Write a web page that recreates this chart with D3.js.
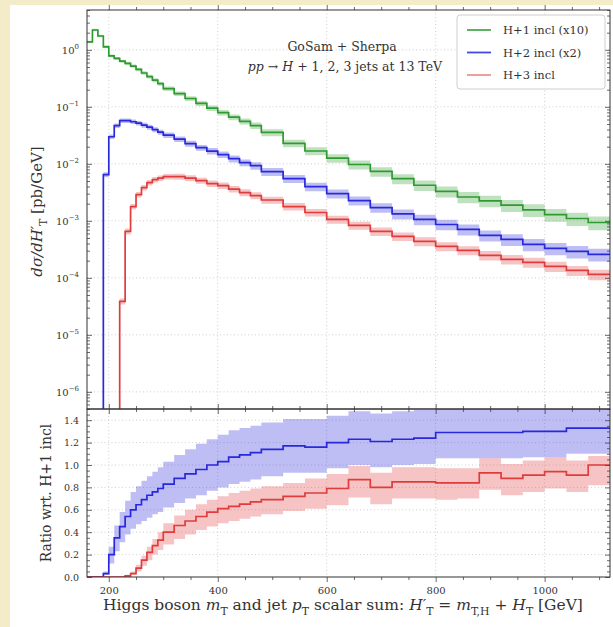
<!DOCTYPE html>
<html>
<head>
<meta charset="utf-8">
<script src="https://cdn.jsdelivr.net/npm/d3@7/dist/d3.min.js"></script>
<style>
  html, body { margin: 0; padding: 0; background: #f4ebc8; }
  svg { display: block; }
  text { font-family: "DejaVu Serif", "Liberation Serif", serif; fill: #333; }
</style>
</head>
<body>
<svg id="chart" width="613" height="627"></svg>
<script>
// Bin edges in H'_T [GeV]
const binEdges = [160,170,180,190,200,210,220,230,240,250,260,270,280,290,300,
  320,340,360,380,400,420,440,460,480,
  520,560,600,640,680,720,760,800,840,880,920,960,1000,1040,1080,1120];

// dσ/dH'_T [pb/GeV] per bin (H+1 scaled x10, H+2 scaled x2)
const h1Values = [1.38,2.23,1.75,1.13,0.783,0.708,0.632,0.579,0.519,0.453,0.392,0.340,0.294,0.255,
  0.208,0.171,0.140,0.1146,0.0953,0.0791,0.0658,0.0555,0.0470,
  0.0356,0.0229,0.0168,0.0126,0.00973,0.00735,0.00549,0.00421,0.00329,0.00262,0.00224,0.00188,0.00156,0.00129,0.0011,0.000935];
const h2Values = [0,0,0,0.00647,0.0299,0.0467,0.0571,0.0571,0.0548,0.0516,0.0476,0.0439,0.0397,0.0359,
  0.0318,0.0271,0.0226,0.0192,0.0167,0.0145,0.0123,0.0105,0.0093,
  0.00731,0.00551,0.00399,0.00301,0.00227,0.00171,0.00132,0.00106,0.000863,0.000706,0.000555,0.000472,0.000386,0.000328,0.000291,0.000258];
const h3Values = [0,0,0,0,0,0,3.88e-5,6.52e-4,1.78e-3,2.89e-3,3.84e-3,4.69e-3,5.29e-3,5.62e-3,
  5.97e-3,5.97e-3,5.62e-3,5.08e-3,4.51e-3,4.16e-3,3.61e-3,3.13e-3,2.78e-3,
  2.32e-3,1.78e-3,1.40e-3,1.06e-3,8.30e-4,6.52e-4,5.32e-4,4.35e-4,3.56e-4,3.03e-4,2.48e-4,2.11e-4,1.87e-4,1.59e-4,1.35e-4,1.15e-4];

// relative scale-uncertainty half-widths per bin
const h1Unc = [0.05,0.05,0.05,0.06,0.06,0.06,0.06,0.07,0.07,0.07,0.07,0.08,0.08,0.08,
  0.09,0.09,0.10,0.10,0.11,0.11,0.12,0.12,0.13,
  0.14,0.15,0.16,0.17,0.18,0.19,0.20,0.21,0.22,0.22,0.23,0.24,0.25,0.25,0.26,0.27];
const h2Unc = [0,0,0,0.10,0.09,0.09,0.09,0.09,0.09,0.09,0.10,0.10,0.10,0.10,
  0.11,0.11,0.12,0.12,0.13,0.13,0.14,0.14,0.15,
  0.16,0.16,0.17,0.18,0.18,0.19,0.20,0.21,0.21,0.22,0.22,0.23,0.24,0.24,0.25,0.25];
const h3Unc = [0,0,0,0,0,0,0.12,0.12,0.11,0.11,0.11,0.11,0.11,0.11,
  0.11,0.12,0.12,0.12,0.13,0.13,0.13,0.14,0.14,
  0.14,0.15,0.15,0.16,0.16,0.17,0.17,0.18,0.18,0.18,0.19,0.19,0.20,0.20,0.20,0.21];

// ratios with respect to H+1 incl, with their bands
const ratio2 = [0,0,0,0.03,0.20,0.35,0.45,0.54,0.60,0.645,0.69,0.73,0.76,0.79,
  0.83,0.88,0.92,0.96,1.00,1.03,1.07,1.09,1.11,
  1.14,1.17,1.16,1.20,1.23,1.21,1.23,1.24,1.29,1.29,1.29,1.29,1.30,1.30,1.33,1.33];
const ratio2Lo = [0,0,0,0.02,0.12,0.23,0.31,0.38,0.43,0.47,0.50,0.53,0.56,0.58,
  0.62,0.66,0.70,0.73,0.77,0.80,0.83,0.85,0.87,
  0.90,0.93,0.93,0.97,1.00,0.98,1.00,1.01,1.06,1.06,1.06,1.06,1.07,1.07,1.10,1.10];
const ratio2Hi = [0,0,0,0.05,0.27,0.46,0.58,0.68,0.76,0.81,0.86,0.90,0.94,0.98,
  1.03,1.09,1.14,1.19,1.23,1.27,1.31,1.33,1.35,
  1.38,1.41,1.41,1.44,1.48,1.46,1.48,1.49,1.55,1.55,1.55,1.55,1.56,1.56,1.58,1.58];
const ratio3 = [0,0,0,0,0,0,0.0,0.01,0.03,0.08,0.15,0.22,0.28,0.33,
  0.40,0.46,0.50,0.54,0.58,0.61,0.63,0.65,0.67,
  0.69,0.72,0.75,0.79,0.87,0.80,0.85,0.85,0.84,0.84,0.93,0.88,0.91,0.94,0.91,1.00];
const ratio3Lo = [0,0,0,0,0,0,0,0.0,0.02,0.05,0.10,0.15,0.20,0.24,
  0.29,0.34,0.38,0.42,0.45,0.48,0.50,0.52,0.54,
  0.56,0.59,0.61,0.64,0.71,0.65,0.70,0.70,0.69,0.70,0.78,0.73,0.76,0.79,0.76,0.82];
const ratio3Hi = [0,0,0,0,0,0,0,0.02,0.05,0.11,0.19,0.27,0.34,0.40,
  0.48,0.55,0.60,0.65,0.69,0.72,0.75,0.77,0.79,
  0.81,0.84,0.88,0.92,0.99,0.93,0.98,0.98,0.97,0.97,1.06,1.01,1.04,1.07,1.04,1.08];

const seriesNames = ["H+1 incl (x10)", "H+2 incl (x2)", "H+3 incl"];
const lineColors = ["#2f9a2f", "#2828dc", "#e03c3c"];
const xTickValues = [200, 400, 600, 800, 1000];
const ratioTickValues = [0, 0.2, 0.4, 0.6, 0.8, 1.0, 1.2, 1.4];
const logDecades = [0, -1, -2, -3, -4, -5, -6];

// ---- layout ----
const L = 87, R = 610, T = 10, MID = 409, B = 577;
const svg = d3.select("#chart");

// card
svg.append("rect").attr("x", 10).attr("y", 5).attr("width", 603).attr("height", 622).attr("fill", "#fff");

const x = d3.scaleLinear().domain([160, 1120]).range([L, R]);
const y = d3.scaleLog().domain([5e-7, 5]).range([MID, T]);
const yr = d3.scaleLinear().domain([0, 1.5]).range([B, MID]);

const defs = svg.append("defs");
defs.append("clipPath").attr("id", "clipMain").append("rect").attr("x", L).attr("y", T).attr("width", R - L).attr("height", MID - T);
defs.append("clipPath").attr("id", "clipRatio").append("rect").attr("x", L).attr("y", MID).attr("width", R - L).attr("height", B - MID);

// grids
const gridStyle = g => g.attr("stroke", "#c4c4c4").attr("stroke-width", 0.8).attr("stroke-dasharray", "1,2.5");
const grid = svg.append("g");
xTickValues.forEach(v => {
  gridStyle(grid.append("line").attr("x1", x(v)).attr("x2", x(v)).attr("y1", T).attr("y2", MID));
  gridStyle(grid.append("line").attr("x1", x(v)).attr("x2", x(v)).attr("y1", MID).attr("y2", B));
});
logDecades.forEach(e => gridStyle(grid.append("line").attr("x1", L).attr("x2", R).attr("y1", y(Math.pow(10, e))).attr("y2", y(Math.pow(10, e)))));
ratioTickValues.slice(1).forEach(v => gridStyle(grid.append("line").attr("x1", L).attr("x2", R).attr("y1", yr(v)).attr("y2", yr(v))));

// step-point helpers
function stepPoints(vals) {
  const pts = [];
  vals.forEach((v, i) => { pts.push({ e: binEdges[i], i }); pts.push({ e: binEdges[i + 1], i }); });
  return pts;
}
const mainY = v => v > 0 ? y(v) : MID + 30;

// ---- main panel ----
const mainG = svg.append("g").attr("clip-path", "url(#clipMain)");
const mainSeries = [[h1Values, h1Unc], [h2Values, h2Unc], [h3Values, h3Unc]];
mainSeries.forEach(([vals, unc], k) => {
  const pts = stepPoints(vals);
  const area = d3.area()
    .defined(p => vals[p.i] > 0)
    .x(p => x(p.e))
    .y0(p => y(vals[p.i] * (1 - unc[p.i])))
    .y1(p => y(vals[p.i] * (1 + unc[p.i])));
  mainG.append("path").attr("d", area(pts)).attr("fill", lineColors[k]).attr("fill-opacity", 0.3);
});
mainSeries.forEach(([vals], k) => {
  const pts = stepPoints(vals);
  const line = d3.line().x(p => x(p.e)).y(p => mainY(vals[p.i]));
  mainG.append("path").attr("d", line(pts)).attr("fill", "none").attr("stroke", lineColors[k]).attr("stroke-width", 1.7);
});

// ---- ratio panel ----
const ratioG = svg.append("g").attr("clip-path", "url(#clipRatio)");
const ratioSeries = [[ratio2, ratio2Lo, ratio2Hi, 1], [ratio3, ratio3Lo, ratio3Hi, 2]];
ratioSeries.forEach(([vals, lo, hi, k]) => {
  const pts = stepPoints(vals);
  const area = d3.area()
    .defined(p => hi[p.i] > 0)
    .x(p => x(p.e)).y0(p => yr(lo[p.i])).y1(p => yr(hi[p.i]));
  ratioG.append("path").attr("d", area(pts)).attr("fill", lineColors[k]).attr("fill-opacity", 0.3);
});
ratioSeries.forEach(([vals, , , k]) => {
  const pts = stepPoints(vals);
  const line = d3.line().x(p => x(p.e)).y(p => yr(vals[p.i]));
  ratioG.append("path").attr("d", line(pts)).attr("fill", "none").attr("stroke", lineColors[k]).attr("stroke-width", 1.7);
});

// ---- axes ----
const xMinor = d3.range(200, 1120, 50).filter(v => v % 200 !== 0);
const logMinor = [];
for (let e = -7; e <= 0; e++) for (let m = 2; m <= 9; m++) { const v = m * Math.pow(10, e); if (v >= 5e-7 && v <= 5) logMinor.push(v); }
const ratioMinor = d3.range(0.05, 1.5, 0.05).filter(v => Math.abs(v * 5 - Math.round(v * 5)) > 1e-6);

function styleAxis(g) {
  g.select(".domain").remove();
  g.selectAll(".tick line").attr("stroke", "#444").attr("stroke-width", 0.8);
  g.selectAll(".tick text").attr("fill", "#444").attr("font-size", 10).attr("font-family", "DejaVu Serif");
  return g;
}
function tickSet(axisFn, scale, values, size, transform, fmt) {
  const ax = axisFn(scale).tickValues(values).tickSize(size).tickSizeOuter(0).tickPadding(6);
  ax.tickFormat(fmt || (() => ""));
  return styleAxis(svg.append("g").attr("transform", transform).call(ax));
}

// x ticks on top of main, on the shared divider, and at the bottom of the ratio panel
[T, MID].forEach(yy => {
  tickSet(d3.axisBottom, x, xTickValues, -5, `translate(0,${yy})`);
  tickSet(d3.axisBottom, x, xMinor, -3, `translate(0,${yy})`);
});
tickSet(d3.axisTop, x, xTickValues, -5, `translate(0,${MID})`);
tickSet(d3.axisTop, x, xMinor, -3, `translate(0,${MID})`);
const xb = tickSet(d3.axisTop, x, xTickValues, -5, `translate(0,${B})`, d3.format("d"));
xb.selectAll("text").attr("y", 14).attr("dy", "0.32em");
tickSet(d3.axisTop, x, xMinor, -3, `translate(0,${B})`);

// main y ticks
const yl = tickSet(d3.axisLeft, y, logDecades.map(e => Math.pow(10, e)), -5, `translate(${L},0)`);
yl.selectAll(".tick text").each(function (d) {
  const t = d3.select(this).attr("x", -8);
  const ex = Math.round(Math.log10(d));
  t.text("10");
  t.append("tspan").attr("dy", -5).attr("font-size", 7).text(ex === 0 ? "0" : "\u2212" + (-ex));
});
tickSet(d3.axisLeft, y, logMinor, -3, `translate(${L},0)`);
tickSet(d3.axisRight, y, logDecades.map(e => Math.pow(10, e)), -5, `translate(${R},0)`);
tickSet(d3.axisRight, y, logMinor, -3, `translate(${R},0)`);

// ratio y ticks
const yrl = tickSet(d3.axisLeft, yr, ratioTickValues, -5, `translate(${L},0)`, d3.format(".1f"));
yrl.selectAll(".tick text").attr("x", -8).attr("font-size", 9.5);
tickSet(d3.axisLeft, yr, ratioMinor, -3, `translate(${L},0)`);
tickSet(d3.axisRight, yr, ratioTickValues, -5, `translate(${R},0)`);
tickSet(d3.axisRight, yr, ratioMinor, -3, `translate(${R},0)`);

// frames
svg.append("rect").attr("x", L).attr("y", T).attr("width", R - L).attr("height", MID - T).attr("fill", "none").attr("stroke", "#333").attr("stroke-width", 1);
svg.append("rect").attr("x", L).attr("y", MID).attr("width", R - L).attr("height", B - MID).attr("fill", "none").attr("stroke", "#333").attr("stroke-width", 1);

// ---- rich text helper (italic / subscript runs) ----
function rich(sel, segs, baseSize) {
  let shift = 0;
  segs.forEach(s => {
    const target = s.sub ? baseSize * 0.3 : 0;
    const ts = sel.append("tspan").text(s.t);
    if (target - shift !== 0) ts.attr("dy", target - shift);
    if (s.i) ts.attr("font-style", "italic");
    if (s.sub) ts.attr("font-size", baseSize * 0.7);
    shift = target;
  });
}

// axis titles
const xt = svg.append("text").attr("x", 343).attr("y", 610).attr("text-anchor", "middle").attr("font-size", 15.5).attr("fill", "#333");
rich(xt, [
  { t: "Higgs boson " }, { t: "m", i: 1 }, { t: "T", sub: 1 }, { t: " and jet " }, { t: "p", i: 1 }, { t: "T", sub: 1 },
  { t: " scalar sum:   " }, { t: "H\u2032", i: 1 }, { t: "T", sub: 1 }, { t: " = " }, { t: "m", i: 1 },
  { t: "T,H", sub: 1 }, { t: " + " }, { t: "H", i: 1 }, { t: "T", sub: 1 }, { t: "  [GeV]" }
], 15.5);

const ytMain = svg.append("text").attr("transform", `translate(42,${(T + MID) / 2 + 2}) rotate(-90)`).attr("text-anchor", "middle").attr("font-size", 15);
rich(ytMain, [{ t: "d\u03c3/d", i: 1 }, { t: "H\u2032", i: 1 }, { t: "T", sub: 1 }, { t: "  [pb/GeV]" }], 15);

svg.append("text").attr("transform", `translate(51,${(MID + B) / 2}) rotate(-90)`).attr("text-anchor", "middle").attr("font-size", 14).text("Ratio wrt. H+1 incl");

// process annotation
svg.append("text").attr("x", 342).attr("y", 51).attr("text-anchor", "middle").attr("font-size", 12.5).text("GoSam + Sherpa");
const ann = svg.append("text").attr("x", 345).attr("y", 71).attr("text-anchor", "middle").attr("font-size", 12.5);
rich(ann, [{ t: "pp", i: 1 }, { t: "  \u2192  " }, { t: "H", i: 1 }, { t: " + 1, 2, 3 jets at 13 TeV" }], 12.5);

// legend
const lg = svg.append("g");
lg.append("rect").attr("x", 457).attr("y", 15).attr("width", 148).attr("height", 74).attr("rx", 3)
  .attr("fill", "#fff").attr("fill-opacity", 0.9).attr("stroke", "#cfcfcf");
seriesNames.forEach((name, k) => {
  const yy = 30 + k * 22.5;
  lg.append("line").attr("x1", 467).attr("x2", 491).attr("y1", yy).attr("y2", yy)
    .attr("stroke", lineColors[k]).attr("stroke-width", 1.8).attr("stroke-opacity", k === 2 ? 0.55 : 0.85);
  lg.append("text").attr("x", 503).attr("y", yy + 4).attr("font-size", 11.5).text(name);
});
</script>
</body>
</html>
